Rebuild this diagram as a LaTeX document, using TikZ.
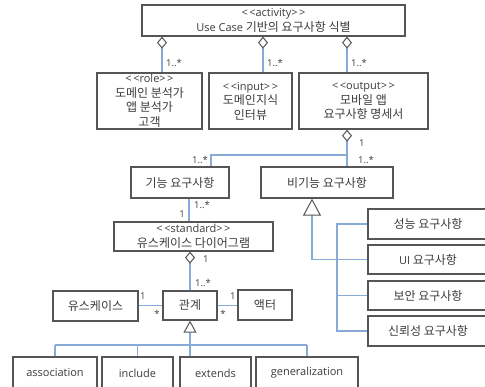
\documentclass[tikz,border=0pt]{standalone}
\usepackage{fontspec}
\setmainfont{Open Sans}
\newfontfamily\kr{Noto Sans CJK KR}
\newfontfamily\latfont{Open Sans}
\newcommand{\lat}[1]{{\latfont\fontsize{11}{14.5}\selectfont #1}}
\newcommand{\st}[1]{\lat{<\kern1.5pt<#1>\kern1.5pt>}}
\usetikzlibrary{arrows.meta}
\definecolor{boxgray}{RGB}{85,85,85}
\definecolor{textgray}{RGB}{60,60,60}
\definecolor{lineblue}{RGB}{135,170,215}
\begin{document}
\begin{tikzpicture}[x=1pt,y=-1pt,
  box/.style={draw=boxgray, line width=1.3pt, fill=white, inner sep=0pt, align=center,
    text=textgray, font=\kr\fontsize{12}{14.5}\selectfont},
  latbox/.style={box, font=\latfont\fontsize{11}{14.5}\selectfont},
  conn/.style={draw=lineblue, line width=1.2pt},
  agg/.style={conn, {Diamond[length=12pt,width=10pt,fill=white,color=boxgray,line width=1pt]}-},
  genbig/.style={conn, {Triangle[length=17pt,width=18pt,fill=white,color=boxgray,line width=1pt]}-},
  gensmall/.style={conn, {Triangle[length=12pt,width=13pt,fill=white,color=boxgray,line width=1pt]}-},
  mult/.style={inner sep=0pt, text=textgray, font=\latfont\fontsize{9.5}{10}\selectfont}]
\useasboundingbox (0,0) rectangle (485,387);
\clip (0,0) rectangle (485,387);

% boxes
\node[box, minimum width=263, minimum height=31] (act) at (273.5,20.5)
  {\st{activity}\\\lat{Use Case} 기반의 요구사항 식별};
\node[box, minimum width=105, minimum height=56] (role) at (149.5,101)
  {\st{role}\\도메인 분석가\\앱 분석가\\고객};
\node[box, minimum width=83, minimum height=56] (input) at (250.5,101)
  {\st{input}\\도메인지식\\인터뷰};
\node[box, minimum width=129, minimum height=56] (output) at (363.5,101)
  {\st{output}\\모바일 앱\\요구사항 명세서};
\node[box, minimum width=98, minimum height=31] (func) at (180,182.5) {기능 요구사항};
\node[box, minimum width=132, minimum height=31] (nonfunc) at (327,182.5) {비기능 요구사항};
\node[box, minimum width=159, minimum height=29] (std) at (193.5,236.5)
  {\st{standard}\\유스케이스 다이어그램};
\node[box, minimum width=85, minimum height=30] (uc) at (95.5,306) {유스케이스};
\node[box, minimum width=54, minimum height=29] (rel) at (190,305.5) {관계};
\node[box, minimum width=54, minimum height=30] (actor) at (265,305) {액터};
\node[box, minimum width=120, minimum height=30] (perf) at (428,224) {성능 요구사항};
\node[box, minimum width=120, minimum height=29] (ui) at (428,259.5) {\lat{UI} 요구사항};
\node[box, minimum width=120, minimum height=29] (sec) at (428,295.5) {보안 요구사항};
\node[box, minimum width=120, minimum height=30] (reli) at (428,331) {신뢰성 요구사항};
\node[latbox, minimum width=84, minimum height=32] (assoc) at (55,373) {association};
\node[latbox, minimum width=71, minimum height=32] (incl) at (137.5,373) {include};
\node[latbox, minimum width=71, minimum height=32] (ext) at (215.5,373) {extends};
\node[latbox, minimum width=102, minimum height=32] (gen) at (307,373) {generalization};

% guide positions for connectors
\coordinate (xa) at (162,0);
\coordinate (xb) at (263,0);
\coordinate (xc) at (347,0);
\coordinate (xf) at (211,0);
\coordinate (jy) at (0,155);
\coordinate (xs) at (189,0);
\coordinate (xg) at (312,0);
\coordinate (xt) at (337,0);
\coordinate (hy) at (0,345);

% activity composition
\draw[agg] (act.south -| xa) -- (role.north -| xa);
\draw[agg] (act.south -| xb) -- (input.north -| xb);
\draw[agg] (act.south -| xc) -- (output.north -| xc);
\node[mult, anchor=west] (m1) at (166,63) {1..*};
\node[mult, anchor=west] (m2) at (267,63) {1..*};
\node[mult, anchor=west] (m3) at (351,63) {1..*};

% specification parts
\draw[agg] (output.south -| xc) -- (nonfunc.north -| xc);
\draw[conn] (xc |- jy) -- (xf |- jy) -- (func.north -| xf);
\node[mult, anchor=west] (m4) at (359,143) {1};
\node[mult, anchor=west] (m5) at (358,160) {1..*};
\node[mult, anchor=east] (m6) at (208,160) {1..*};

% functional requirements
\draw[conn] (func.south -| xs) -- (std.north -| xs);
\node[mult, anchor=west] (m7) at (194,205) {1..*};
\node[mult, anchor=east] (m8) at (185,214) {1};
\draw[agg] (std.south -| rel) -- (rel.north);
\node[mult, anchor=west] (m9) at (203,259) {1};
\node[mult, anchor=west] (m10) at (195,283) {1..*};

% relations
\draw[conn] (uc.east |- rel) -- (rel.west);
\draw[conn] (rel.east) -- (actor.west |- rel);
\node[mult, anchor=west] (m11) at (140,296) {1};
\node[mult] (m12) at (157,314) {*};
\node[mult, anchor=west] (m13) at (230,296) {1};
\node[mult] (m14) at (223,314) {*};

% relation kinds
\draw[gensmall] (rel.south) -- (ext.north -| rel);
\draw[conn] (assoc.north |- hy) -- (gen.north |- hy);
\draw[conn] (assoc.north |- hy) -- (assoc.north);
\draw[conn] (incl.north |- hy) -- (incl.north);
\draw[conn] (gen.north |- hy) -- (gen.north);

% non-functional requirement kinds
\draw[genbig] (nonfunc.south -| xg) |- (ui.west);
\draw[conn] (perf.west) -| (xt |- reli.west) -- (reli.west);
\draw[conn] (xt |- sec.west) -- (sec.west);
\end{tikzpicture}
\end{document}
